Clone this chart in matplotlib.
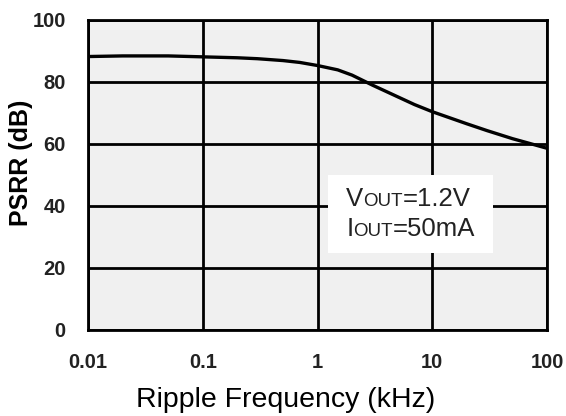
import matplotlib.pyplot as plt
from matplotlib.offsetbox import TextArea, HPacker, VPacker, AnnotationBbox, DrawingArea

plt.rcParams['font.family'] = ['Liberation Sans', 'DejaVu Sans']

# data
freq_khz = [0.01, 0.02, 0.05, 0.1, 0.2, 0.3, 0.5, 0.7, 1, 1.5, 2, 3, 5, 7, 10, 20, 30, 50, 70, 100]
psrr_db = [88.2, 88.4, 88.4, 88.1, 87.8, 87.5, 86.9, 86.3, 85.3, 83.9, 82.2, 79.0, 75.2, 72.7, 70.4, 66.5, 64.3, 61.7, 60.2, 58.6]

x_ticks = [0.01, 0.1, 1, 10, 100]
x_labels = ['0.01', '0.1', '1', '10', '100']
y_ticks = [0, 20, 40, 60, 80, 100]

fig = plt.figure(figsize=(5.66, 4.16), dpi=100)
ax = fig.add_axes([0.1555, 0.207, 0.811, 0.745])
ax.set_facecolor('#f0f0f0')

ax.plot(freq_khz, psrr_db, color='black', lw=2.4, zorder=3)

ax.set_xscale('log')
ax.set_xlim(0.01, 100)
ax.set_ylim(0, 100)
ax.set_xticks(x_ticks)
ax.set_xticklabels(x_labels)
ax.set_yticks(y_ticks)
ax.minorticks_off()
ax.tick_params(length=0, labelsize=14.5)
ax.tick_params(axis='x', pad=17)
ax.tick_params(axis='y', pad=16)
for lab in ax.get_xticklabels() + ax.get_yticklabels():
    lab.set_fontweight('bold')
    lab.set_color('#222222')

ax.grid(True, color='black', lw=2.0)
for s in ax.spines.values():
    s.set_linewidth(2.0)

ax.set_ylabel('PSRR (dB)', fontsize=18, fontweight='bold')
ax.yaxis.set_label_coords(-0.146, 0.54)
ax.yaxis.label.set_va('center')

ax.set_xlabel('Ripple Frequency (kHz)', fontsize=20.5)
ax.xaxis.set_label_coords(0.431, -0.248)
ax.xaxis.label.set_va('baseline')

# annotation with small-caps subscripts
big = dict(size=18.5, color='#222222')
small = dict(size=13.5, color='#222222')
line1 = HPacker(children=[TextArea('V', textprops=big), TextArea('OUT', textprops=small),
                          TextArea('=1.2V', textprops=big)], align='baseline', pad=0, sep=0)
line2 = HPacker(children=[TextArea('I', textprops=big), TextArea('OUT', textprops=small),
                          TextArea('=50mA', textprops=big)], align='baseline', pad=0, sep=0)
lines = VPacker(children=[line1, line2], align='left', pad=0, sep=5)
box = HPacker(children=[DrawingArea(5, 1), lines, DrawingArea(5, 1)], align='center', pad=0, sep=0)
ab = AnnotationBbox(box, (6.5, 37.4), xycoords='data', frameon=True,
                    bboxprops=dict(facecolor='white', edgecolor='none'), pad=0.8, zorder=4)
ax.add_artist(ab)

fig.savefig('out.png', dpi=100)
